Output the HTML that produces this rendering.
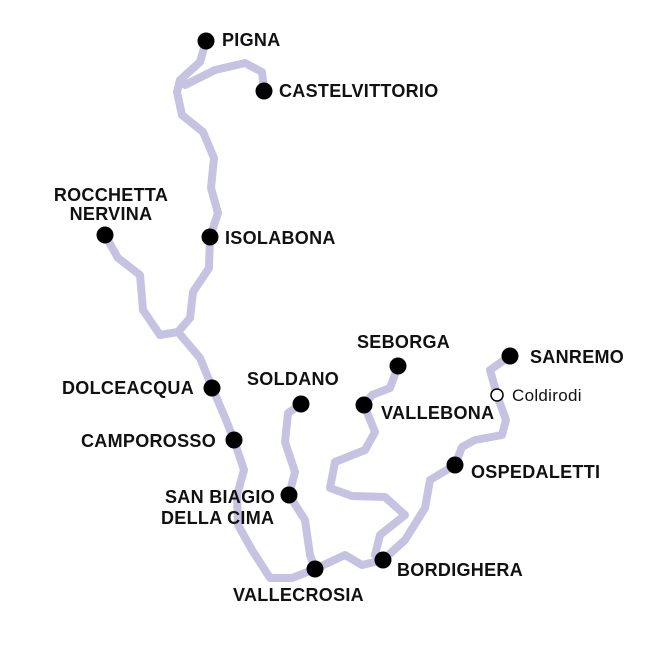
<!DOCTYPE html>
<html><head><meta charset="utf-8"><style>
html,body{margin:0;padding:0;background:#fff;}
svg{display:block;}
text{font-family:"Liberation Sans",Arial,sans-serif;font-weight:bold;font-size:18px;letter-spacing:0.3px;fill:#111;}
</style></head><body>
<svg width="670" height="645" viewBox="0 0 670 645" xmlns="http://www.w3.org/2000/svg">
<g fill="none" stroke="#c6c3e2" stroke-width="8" stroke-linejoin="round" stroke-linecap="round">
<path d="M206,41 L200,62 L180,80 L177,92 L182,115 L203,132 L214,158 L211,188 L218,213 L210,237 L209,268 L193,292 L190,318 L178,332"/>
<path d="M185,85 L215,70 L245,63 L262,72 L264,91"/>
<path d="M105,235 L118,258 L140,275 L143,310 L160,335 L178,332 L200,358 L212,387 L226,420 L234,440 L244,470 L237,495 L238,525 L252,550 L270,578 L292,578 L315,569 L345,555 L362,565 L383,560"/>
<path d="M301,404 L288,413 L285,442 L295,472 L289,495 L305,520 L310,555 L315,569"/>
<path d="M398,366 L390,388 L372,395 L364,405 L375,432 L365,450 L335,462 L330,488 L352,496 L385,497 L405,515 L380,535 L375,555 L383,560"/>
<path d="M510,356 L490,370 L497,395 L506,420 L502,435 L475,440 L462,447 L455,465 L430,480 L425,508 L405,540 L383,560"/>
</g>
<g fill="#000">
<circle cx="206" cy="41" r="8.5"/><circle cx="264" cy="91" r="8.5"/>
<circle cx="105" cy="235" r="8.5"/><circle cx="210" cy="237" r="8.5"/>
<circle cx="212" cy="388" r="8.5"/><circle cx="234" cy="440" r="8.5"/>
<circle cx="301" cy="404" r="8.5"/><circle cx="289" cy="495" r="8.5"/>
<circle cx="315" cy="569" r="8.5"/><circle cx="383" cy="560" r="8.5"/>
<circle cx="398" cy="366" r="8.5"/><circle cx="364" cy="405" r="8.5"/>
<circle cx="510" cy="356" r="8.5"/><circle cx="455" cy="465" r="8.5"/>
</g>
<circle cx="497" cy="395" r="6" fill="#fff" stroke="#000" stroke-width="1.5"/>
<text x="222" y="46">PIGNA</text>
<text x="279" y="97">CASTELVITTORIO</text>
<text x="111" y="201" text-anchor="middle">ROCCHETTA</text>
<text x="111" y="220" text-anchor="middle">NERVINA</text>
<text x="225" y="244">ISOLABONA</text>
<text x="62" y="394">DOLCEACQUA</text>
<text x="81" y="447">CAMPOROSSO</text>
<text x="247" y="385">SOLDANO</text>
<text x="357" y="348">SEBORGA</text>
<text x="530" y="363">SANREMO</text>
<text x="512" y="401" style="font-weight:normal;font-size:17px">Coldirodi</text>
<text x="381" y="419">VALLEBONA</text>
<text x="471" y="478">OSPEDALETTI</text>
<text x="165" y="503">SAN BIAGIO</text>
<text x="161" y="524">DELLA CIMA</text>
<text x="397" y="576">BORDIGHERA</text>
<text x="233" y="601">VALLECROSIA</text>
</svg>
</body></html>
